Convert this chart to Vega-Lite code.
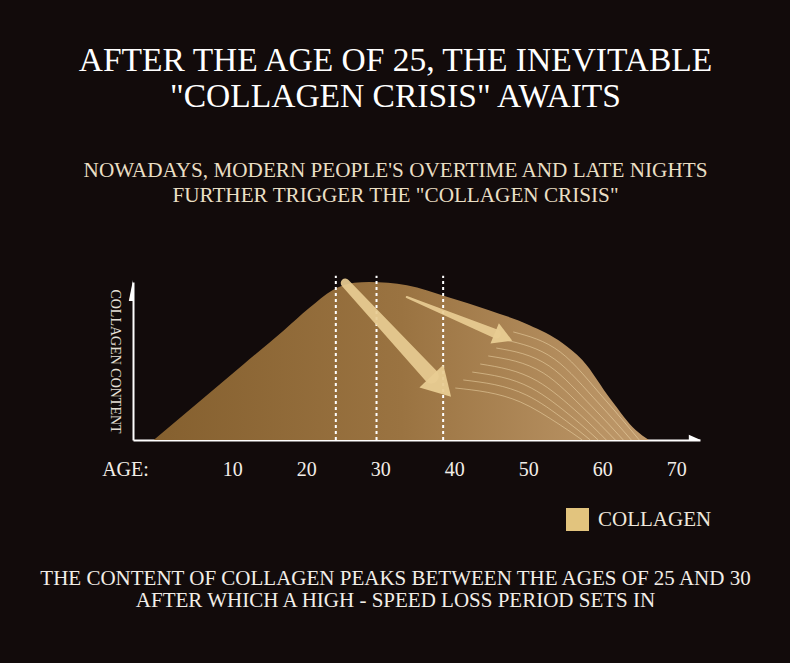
{
  "$schema": "https://vega.github.io/schema/vega-lite/v6.json",
  "width": 567,
  "height": 158,
  "autosize": {"type": "none"},
  "padding": {"left": 133, "top": 282, "right": 90, "bottom": 223},
  "background": "#120b0b",
  "title": {
    "text": ["AFTER THE AGE OF 25, THE INEVITABLE", "\"COLLAGEN CRISIS\" AWAITS"],
    "subtitle": ["NOWADAYS, MODERN PEOPLE'S OVERTIME AND LATE NIGHTS", "FURTHER TRIGGER THE \"COLLAGEN CRISIS\""],
    "anchor": "middle",
    "frame": "group",
    "dx": -21,
    "offset": 67,
    "font": "Liberation Serif",
    "fontSize": 33.5,
    "fontWeight": "normal",
    "color": "#ffffff",
    "lineHeight": 36,
    "subtitleFont": "Liberation Serif",
    "subtitleFontSize": 21.2,
    "subtitleColor": "#eadfc4",
    "subtitleLineHeight": 25,
    "subtitlePadding": 46
  },
  "config": {
    "view": {"stroke": null},
    "font": "Liberation Serif"
  },
  "layer": [
    {
      "data": {"values": [
        {"age": -0.6, "value": 0},
        {"age": 5.9, "value": 25.6},
        {"age": 11.5, "value": 47.8},
        {"age": 17.0, "value": 69.5},
        {"age": 20.4, "value": 83.5},
        {"age": 23.6, "value": 95.0},
        {"age": 26.5, "value": 99.5},
        {"age": 28.5, "value": 100},
        {"age": 33.6, "value": 98},
        {"age": 39.1, "value": 90.5},
        {"age": 44.6, "value": 82.3},
        {"age": 50.1, "value": 72.8},
        {"age": 54.6, "value": 61.4},
        {"age": 57.3, "value": 50.6},
        {"age": 61.2, "value": 25.3},
        {"age": 64.5, "value": 6.3},
        {"age": 66.3, "value": 0}
      ]},
      "mark": {
        "type": "area",
        "interpolate": "monotone",
        "fill": {
          "gradient": "linear",
          "x1": 0, "y1": 0, "x2": 1, "y2": 0,
          "stops": [
            {"offset": 0, "color": "#85602f"},
            {"offset": 0.5, "color": "#9a7341"},
            {"offset": 1, "color": "#c09a6c"}
          ]
        }
      },
      "encoding": {
        "x": {
          "field": "age", "type": "quantitative",
          "scale": {"domain": [-3.4, 73.2], "nice": false, "zero": false},
          "axis": {
            "values": [-3.4, 10, 20, 30, 40, 50, 60, 70],
            "labelExpr": "datum.value < 0 ? 'AGE:' : datum.label",
            "labelFlush": false,
            "labelOffset": {"condition": {"test": "datum.value < 0", "value": -8}, "value": 0},
            "labelFont": "Liberation Serif",
            "labelFontSize": 20,
            "labelColor": "#f2eee8",
            "labelPadding": 19,
            "ticks": false,
            "grid": false,
            "domainColor": "#ffffff",
            "domainWidth": 2,
            "title": ["THE CONTENT OF COLLAGEN PEAKS BETWEEN THE AGES OF 25 AND 30", "AFTER WHICH A HIGH - SPEED LOSS PERIOD SETS IN"],
            "titleFont": "Liberation Serif",
            "titleFontSize": 21,
            "titleFontWeight": "normal",
            "titleColor": "#f2eee8",
            "titleLineHeight": 22,
            "titleX": 262,
            "titleY": 144,
            "titleAlign": "center",
            "titleBaseline": "alphabetic"
          }
        },
        "y": {
          "field": "value", "type": "quantitative",
          "scale": {"domain": [0, 100], "nice": false},
          "axis": {
            "labels": false,
            "ticks": false,
            "grid": false,
            "domainColor": "#ffffff",
            "domainWidth": 2,
            "title": "COLLAGEN CONTENT",
            "titleAngle": 90,
            "titleFont": "Liberation Serif",
            "titleFontSize": 14,
            "titleFontWeight": "normal",
            "titleColor": "#e6e0d8",
            "titlePadding": 26
          }
        }
      }
    },
    {
      "data": {"values": [
        {"id": 0, "age": 47.97, "value": 68.4}, {"id": 0, "age": 54.32, "value": 55.7}, {"id": 0, "age": 60.41, "value": 25.3}, {"id": 0, "age": 65.0, "value": 0},
        {"id": 1, "age": 46.89, "value": 63.3}, {"id": 1, "age": 53.51, "value": 51.3}, {"id": 1, "age": 59.59, "value": 22.8}, {"id": 1, "age": 63.92, "value": 0},
        {"id": 2, "age": 45.68, "value": 58.2}, {"id": 2, "age": 52.84, "value": 46.8}, {"id": 2, "age": 58.65, "value": 20.9}, {"id": 2, "age": 62.84, "value": 0},
        {"id": 3, "age": 44.59, "value": 53.2}, {"id": 3, "age": 52.03, "value": 42.4}, {"id": 3, "age": 57.84, "value": 18.4}, {"id": 3, "age": 61.76, "value": 0},
        {"id": 4, "age": 43.51, "value": 48.1}, {"id": 4, "age": 51.22, "value": 37.3}, {"id": 4, "age": 56.89, "value": 16.5}, {"id": 4, "age": 60.54, "value": 0},
        {"id": 5, "age": 42.43, "value": 43.0}, {"id": 5, "age": 50.41, "value": 32.9}, {"id": 5, "age": 56.08, "value": 13.9}, {"id": 5, "age": 59.46, "value": 0},
        {"id": 6, "age": 41.22, "value": 38.0}, {"id": 6, "age": 49.73, "value": 28.5}, {"id": 6, "age": 55.14, "value": 12.0}, {"id": 6, "age": 58.38, "value": 0},
        {"id": 7, "age": 40.14, "value": 32.9}, {"id": 7, "age": 48.92, "value": 24.1}, {"id": 7, "age": 54.32, "value": 9.5}, {"id": 7, "age": 57.30, "value": 0}
      ]},
      "mark": {"type": "line", "interpolate": "monotone", "color": "#f3ddb0", "strokeWidth": 1, "opacity": 0.5},
      "encoding": {
        "x": {"field": "age", "type": "quantitative"},
        "y": {"field": "value", "type": "quantitative"},
        "detail": {"field": "id"}
      }
    },
    {
      "data": {"values": [{"age": 24.0}, {"age": 29.5}, {"age": 38.5}]},
      "mark": {"type": "rule", "color": "#ffffff", "strokeWidth": 2, "strokeDash": [3, 3]},
      "encoding": {
        "x": {"field": "age", "type": "quantitative"},
        "y": {"datum": 0},
        "y2": {"datum": 104}
      }
    },
    {
      "data": {"values": [
        {"arrow": 1, "age": 25.27, "value": 99.4, "w": 9},
        {"arrow": 1, "age": 36.89, "value": 40.5, "w": 15},
        {"arrow": 2, "age": 33.58, "value": 90.5, "w": 2},
        {"arrow": 2, "age": 45.68, "value": 67.1, "w": 9}
      ]},
      "mark": {"type": "trail", "color": "#e8cc92", "opacity": 0.92},
      "encoding": {
        "x": {"field": "age", "type": "quantitative"},
        "y": {"field": "value", "type": "quantitative"},
        "detail": {"field": "arrow"},
        "size": {"field": "w", "type": "quantitative", "scale": {"domain": [0, 20], "range": [0, 20]}, "legend": null}
      }
    },
    {
      "data": {"values": [
        {"age": 38.24, "value": 33.9, "dir": 136.4, "s": 1089},
        {"age": 46.65, "value": 65.2, "dir": 112.5, "s": 484}
      ]},
      "mark": {"type": "point", "shape": "triangle-up", "filled": true, "color": "#e8cc92", "opacity": 0.95},
      "encoding": {
        "x": {"field": "age", "type": "quantitative"},
        "y": {"field": "value", "type": "quantitative"},
        "angle": {"field": "dir", "type": "quantitative", "scale": {"domain": [0, 360], "range": [0, 360]}},
        "size": {"field": "s", "type": "quantitative", "scale": {"type": "identity"}, "legend": null}
      }
    },
    {
      "data": {"values": [{"age": -3.4, "value": 100}]},
      "mark": {"type": "point", "shape": "M0,-0.2L-0.4,1.8L0,1.8Z", "size": 441, "filled": true, "color": "#ffffff", "opacity": 1},
      "encoding": {
        "x": {"field": "age", "type": "quantitative"},
        "y": {"field": "value", "type": "quantitative"}
      }
    },
    {
      "data": {"values": [{"age": 73.2, "value": 0}]},
      "mark": {"type": "point", "shape": "M0.1,0L-1.6,-0.75L-1.6,0Z", "size": 196, "filled": true, "color": "#ffffff", "opacity": 1},
      "encoding": {
        "x": {"field": "age", "type": "quantitative"},
        "y": {"field": "value", "type": "quantitative"}
      }
    },
    {
      "data": {"values": [{"series": "COLLAGEN"}]},
      "transform": [{"filter": "false"}],
      "mark": {"type": "square"},
      "encoding": {
        "color": {
          "field": "series", "type": "nominal",
          "scale": {"domain": ["COLLAGEN"], "range": ["#e2c47e"]},
          "legend": {
            "title": null,
            "orient": "none",
            "legendX": 433,
            "legendY": 226,
            "symbolType": "square",
            "symbolSize": 529,
            "symbolOpacity": 1,
            "symbolStrokeWidth": 0,
            "labelFont": "Liberation Serif",
            "labelFontSize": 21,
            "labelColor": "#efe8dc",
            "labelOffset": 9
          }
        }
      }
    }
  ]
}
